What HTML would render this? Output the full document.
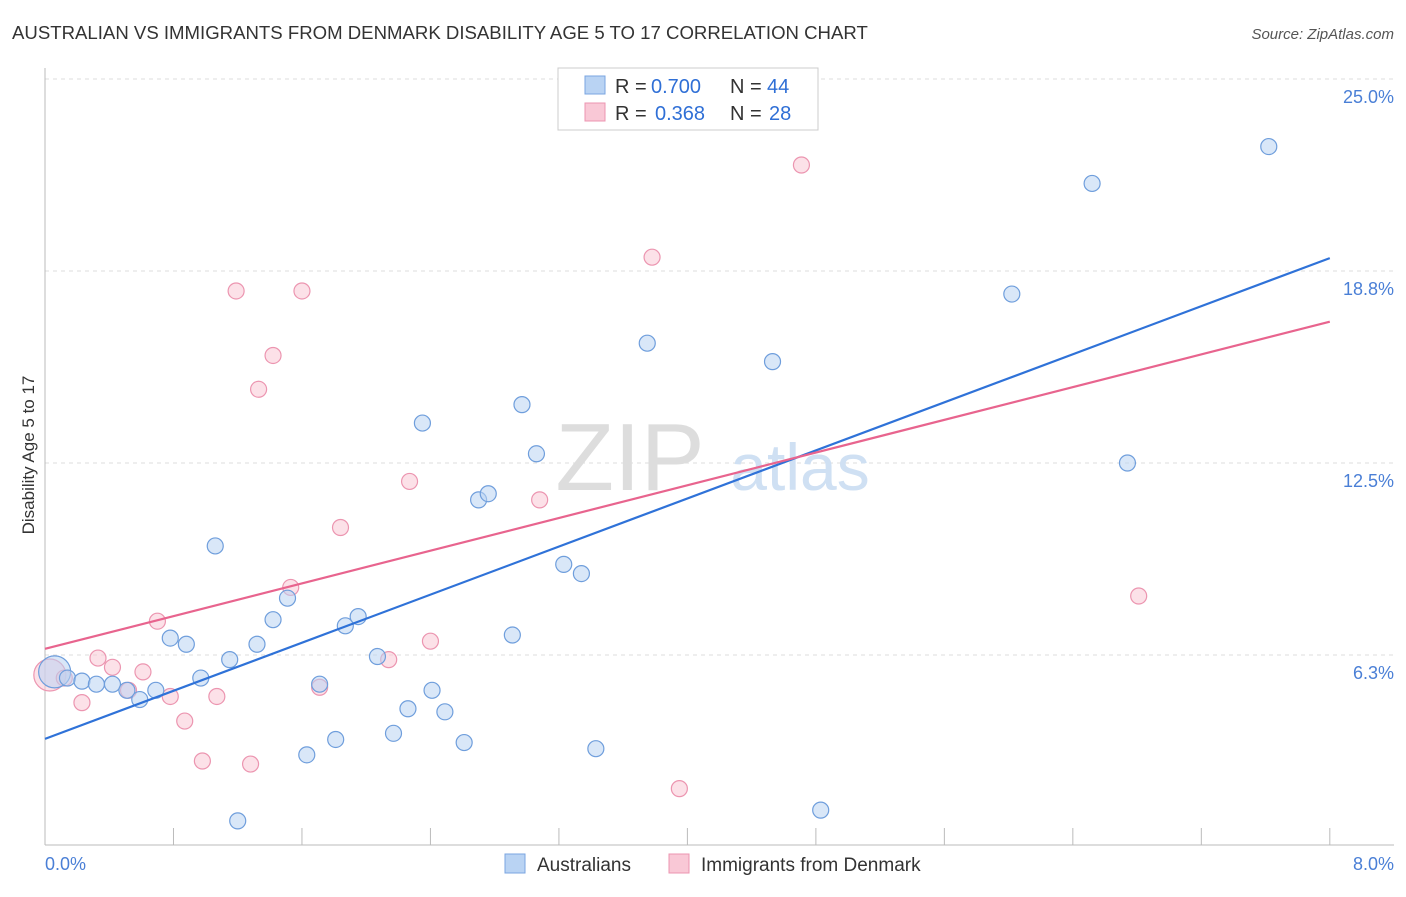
<!DOCTYPE html>
<html><head><meta charset="utf-8"><style>
body{margin:0;background:#fff;font-family:"Liberation Sans",sans-serif;}
svg text{font-family:"Liberation Sans",sans-serif;}
</style></head><body>
<svg id="chart" width="1406" height="892">
<text x="12" y="39" font-size="18.6" fill="#333">AUSTRALIAN VS IMMIGRANTS FROM DENMARK DISABILITY AGE 5 TO 17 CORRELATION CHART</text>
<text x="1394" y="39" font-size="15" fill="#555" font-style="italic" text-anchor="end">Source: ZipAtlas.com</text>
<g id="grid"></g>
<text x="630" y="490" font-size="96" fill="#ddd" font-family="Liberation Serif" text-anchor="middle">ZIP</text>
<text x="800" y="490" font-size="66" fill="#cfe0f3" text-anchor="middle">atlas</text>
<g id="marks"></g>
<text x="34" y="455" font-size="17" fill="#333" text-anchor="middle" transform="rotate(-90 34 455)">Disability Age 5 to 17</text>
<text x="45" y="870" font-size="18" fill="#4a7fd6">0.0%</text>
<text x="1394" y="870" font-size="18" fill="#4a7fd6" text-anchor="end">8.0%</text>
<g>
<rect x="558" y="68" width="260" height="62" fill="#fff" stroke="#ccc"/>
<rect x="585" y="76" width="20" height="18" fill="#b9d3f3" stroke="#7aa5e0"/>
<rect x="585" y="103" width="20" height="18" fill="#f9c8d6" stroke="#ec95b0"/>
<text x="615" y="93" font-size="20" fill="#333">R =</text>
<text x="651" y="93" font-size="20" fill="#2f6fd6">0.700</text>
<text x="730" y="93" font-size="20" fill="#333">N =</text>
<text x="767" y="93" font-size="20" fill="#2f6fd6">44</text>
<text x="615" y="120" font-size="20" fill="#333">R =</text>
<text x="655" y="120" font-size="20" fill="#2f6fd6">0.368</text>
<text x="730" y="120" font-size="20" fill="#333">N =</text>
<text x="769" y="120" font-size="20" fill="#2f6fd6">28</text>
</g>
<g>
<rect x="505" y="854" width="20" height="19" fill="#b9d3f3" stroke="#7aa5e0"/>
<text x="537" y="871" font-size="19" fill="#333">Australians</text>
<rect x="669" y="854" width="20" height="19" fill="#f9c8d6" stroke="#ec95b0"/>
<text x="701" y="871" font-size="19" fill="#333">Immigrants from Denmark</text>
</g>
</svg>
<script>
const yTicks=[6.25,12.5,18.75,25];
const yTickLabels=["6.3%","12.5%","18.8%","25.0%"];
const xTicks=[0,0.8,1.6,2.4,3.2,4.0,4.8,5.6,6.4,7.2,8.0];
const ausX=[0.06,0.14,0.23,0.32,0.42,0.51,0.59,0.69,0.78,0.88,0.97,1.06,1.15,1.20,1.32,1.42,1.51,1.63,1.71,1.81,1.87,1.95,2.07,2.17,2.26,2.35,2.41,2.49,2.61,2.70,2.76,2.91,2.97,3.06,3.23,3.34,3.43,3.75,4.53,4.83,6.02,6.52,6.74,7.62];
const ausY=[5.7,5.5,5.4,5.3,5.3,5.1,4.8,5.1,6.8,6.6,5.5,9.8,6.1,0.85,6.6,7.4,8.1,3.0,5.3,3.5,7.2,7.5,6.2,3.7,4.5,13.8,5.1,4.4,3.4,11.3,11.5,6.9,14.4,12.8,9.2,8.9,3.2,16.4,15.8,1.2,18.0,21.6,12.5,22.8];
const denX=[0.03,0.12,0.23,0.33,0.42,0.52,0.61,0.70,0.78,0.87,0.98,1.07,1.19,1.28,1.33,1.42,1.53,1.60,1.71,1.84,2.14,2.27,2.40,3.08,3.78,3.95,4.71,6.81];
const denY=[5.6,5.5,4.7,6.15,5.85,5.1,5.7,7.35,4.9,4.1,2.8,4.9,18.1,2.7,14.9,16.0,8.45,18.1,5.2,10.4,6.1,11.9,6.7,11.3,19.2,1.9,22.2,8.17];
const ausTrend=[3.52,19.17];
const denTrend=[6.45,17.1];
const X=v=>45+v*160.6, Y=v=>847-v*30.72;
const NS="http://www.w3.org/2000/svg";
const gridG=document.getElementById('grid'), marksG=document.getElementById('marks');
function mk(tag,attrs,parent){const e=document.createElementNS(NS,tag);for(const k in attrs)e.setAttribute(k,attrs[k]);parent.appendChild(e);return e;}
yTicks.forEach((t,i)=>{
 const l=mk('line',{x1:45,x2:1394,y1:Y(t),y2:Y(t),stroke:'#ddd','stroke-dasharray':'4,4'},gridG);
 
 
 const tx=mk('text',{x:1394,y:Y(t)+24,'font-size':18,fill:'#4a7fd6','text-anchor':'end'},gridG);
 tx.textContent=yTickLabels[i];
 
 
});
const topLine=mk('line',{x1:45,x2:1394,y1:79,y2:79,stroke:'#ddd','stroke-dasharray':'4,4'},gridG);


const ya=mk('line',{x1:45,x2:45,y1:68,y2:845,stroke:'#bbb'},gridG);


const xa=mk('line',{x1:45,x2:1394,y1:845,y2:845,stroke:'#bbb'},gridG);


xTicks.forEach(t=>{
 const l=mk('line',{x1:X(t),x2:X(t),y1:828,y2:845,stroke:'#bbb'},gridG);
 
 
});
function pts(xs,ys,fill,stroke,name){
 xs.forEach((x,i)=>{
  const c=mk('circle',{cx:X(x),cy:Y(ys[i]),r:i===0?16:8,fill:fill,'fill-opacity':0.55,stroke:stroke,'stroke-width':1.2},marksG);
  
  
 });
}
pts(denX,denY,'#f9c8d6','#ec95b0','denmark-point');
pts(ausX,ausY,'#b9d3f3','#6f9edc','australians-point');
const l1=mk('line',{x1:X(0),y1:Y(ausTrend[0]),x2:X(8),y2:Y(ausTrend[1]),stroke:'#2f72d8','stroke-width':2.2},marksG);


const l2=mk('line',{x1:X(0),y1:Y(denTrend[0]),x2:X(8),y2:Y(denTrend[1]),stroke:'#e8648e','stroke-width':2.2},marksG);


</script>
</body></html>
